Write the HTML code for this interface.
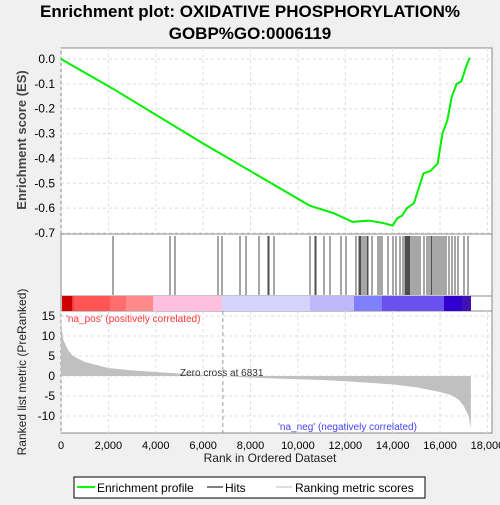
<!DOCTYPE html>
<html><head><meta charset="utf-8"><style>
body{margin:0;background:#f0f0f0;font-family:"Liberation Sans",sans-serif}
svg text{font-family:"Liberation Sans",sans-serif}
</style></head><body>
<svg id="c" width="500" height="500" xmlns="http://www.w3.org/2000/svg">
<text x="250" y="17" text-anchor="middle" font-size="17" font-weight="bold">Enrichment plot: OXIDATIVE PHOSPHORYLATION%</text>
<text x="250" y="39" text-anchor="middle" font-size="17" font-weight="bold">GOBP%GO:0006119</text>
<rect x="61" y="48" width="431" height="186" fill="#fff" stroke="#888"/>
<rect x="61" y="234" width="431" height="62" fill="#fff" stroke="#888"/>
<rect x="61" y="296" width="431" height="15" fill="#fff" stroke="#888"/>
<rect x="61" y="311" width="431" height="122" fill="#fff" stroke="#888"/>
<g id="g"></g>
<text x="26" y="140" transform="rotate(-90 26 140)" text-anchor="middle" font-size="13" font-weight="bold" fill="#444">Enrichment score (ES)</text>
<text x="26" y="372" transform="rotate(-90 26 372)" text-anchor="middle" font-size="12" fill="#222">Ranked list metric (PreRanked)</text>
<text x="270" y="462" text-anchor="middle" font-size="12" fill="#222">Rank in Ordered Dataset</text>
<text x="66" y="322" font-size="10" fill="#f33">'na_pos' (positively correlated)</text>
<text x="278" y="430" font-size="10" fill="#44f">'na_neg' (negatively correlated)</text>
<g>
<rect x="74" y="477" width="351" height="21" fill="#fff" stroke="#000"/>
<line x1="77" y1="487" x2="95" y2="487" stroke="#0f0" stroke-width="2"/>
<text x="97" y="492" font-size="12">Enrichment profile</text>
<line x1="207" y1="487" x2="223" y2="487" stroke="#000"/>
<text x="225" y="492" font-size="12">Hits</text>
<line x1="276" y1="487" x2="292" y2="487" stroke="#bbb"/>
<text x="295" y="492" font-size="12">Ranking metric scores</text>
</g>
</svg>
<script>
const esRanks=[0,2200,6000,10500,11500,12300,13000,13600,14000,14200,14400,14600,14900,15100,15300,15600,15900,16100,16300,16500,16700,16900,17100,17250];
const esValues=[0,-0.12,-0.34,-0.59,-0.62,-0.655,-0.65,-0.66,-0.67,-0.64,-0.63,-0.6,-0.58,-0.52,-0.46,-0.45,-0.42,-0.3,-0.25,-0.15,-0.1,-0.09,-0.03,0.005];
const hitPx=[113,170,175,218,222,240,246,259,268,269,274,310,315,316,324,330,341,346,356,359,360,361,363,365,367,368,372,378,380,382,388,393,396,400,403,405,406,407,408,409,410,412,414,416,418,420,424,427,429,431,432,434,436,438,440,442,444,446,449,452,455,458,464,468];
const metricRanks=[0,30,100,300,500,1000,2000,3000,4000,5000,6831,8000,10000,11000,12000,13000,14000,15000,16000,16500,16800,17000,17200,17300];
const metricValues=[15,12,9,6.5,5,3.5,2,1.4,1,0.6,0,-0.4,-0.8,-1,-1.3,-1.7,-2.1,-2.8,-4,-4.8,-6,-7.5,-10,-13];
const esTicks=[0,-0.1,-0.2,-0.3,-0.4,-0.5,-0.6,-0.7];
const metricTicks=[15,10,5,0,-5,-10];
const xTicks=[0,2000,4000,6000,8000,10000,12000,14000,16000,18000];
const NS="http://www.w3.org/2000/svg",g=document.getElementById('g');
const X=r=>61+r*0.02369, Xinv=p=>(p-61)/0.02369;
const YE=v=>59-v*(174/0.7), YM=v=>376-v*4;
function el(t,a){const e=document.createElementNS(NS,t);for(const k in a)e.setAttribute(k,a[k]);g.appendChild(e);return e;}
xTicks.forEach(t=>{const x=X(t);
 [[48,234],[311,433]].forEach(([a,b])=>{const l=el('line',{x1:x,x2:x,y1:a,y2:b,stroke:'#ddd','stroke-dasharray':'3,3'});});
 const tx=el('text',{x:x,y:449,'text-anchor':'middle','font-size':11});tx.textContent=t.toLocaleString('en-US');
 });
esTicks.forEach(t=>{const y=YE(t);
 const l=el('line',{x1:61,x2:492,y1:y,y2:y,stroke:'#ddd','stroke-dasharray':'3,3'});
 const tx=el('text',{x:55,y:y+4,'text-anchor':'end','font-size':12});tx.textContent=t.toFixed(1);
 });
metricTicks.forEach(t=>{const y=YM(t);
 const l=el('line',{x1:61,x2:492,y1:y,y2:y,stroke:'#ddd','stroke-dasharray':'3,3'});
 const tx=el('text',{x:55,y:y+4,'text-anchor':'end','font-size':12});tx.textContent=t;
 });
const cb=[[62,72,'#d00000'],[72,74,'#e84040'],[74,110,'#ff5555'],[110,126,'#ff6e6e'],[126,153,'#ff8a8a'],[153,222,'#ffc0e0'],[222,310,'#d4d4fc'],[310,354,'#c0b8f8'],[354,382,'#8080ff'],[382,444,'#6a50ee'],[444,462,'#3000d0'],[462,471,'#4010b0']];
cb.forEach(s=>{const r=el('rect',{x:s[0],y:296,width:s[1]-s[0],height:15,fill:s[2]});});
hitPx.map(Xinv).forEach(r=>{const l=el('line',{x1:X(r),x2:X(r),y1:236,y2:295,stroke:'#222','stroke-width':0.8});
 });
let d='M'+X(0)+','+YM(0);metricRanks.forEach((r,i)=>d+=' L'+X(r)+','+YM(metricValues[i]));d+=' L'+X(17300)+','+YM(0)+'Z';
const a=el('path',{d:d,fill:'#c0c0c0'});
const zl=el('line',{x1:X(6831),x2:X(6831),y1:311,y2:433,stroke:'#999','stroke-dasharray':'4,3'});
const zt=el('text',{x:180,y:376,'font-size':10,fill:'#333'});zt.textContent='Zero cross at 6831';
const pts=esRanks.map((r,i)=>X(r)+','+YE(esValues[i])).join(' ');
const pl=el('polyline',{points:pts,fill:'none',stroke:'#00ee00','stroke-width':2});
</script>
</body></html>
